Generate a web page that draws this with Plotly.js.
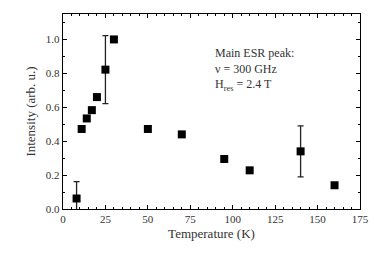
<!DOCTYPE html>
<html><head><meta charset="utf-8">
<script src="https://cdn.plot.ly/plotly-3.0.1.min.js"></script>
<style>html,body{margin:0;padding:0;background:#fff;}#chart{width:374px;height:274px;}</style>
</head><body><div id="chart"></div>
<script>
const temperature = [8, 11, 14, 17, 20, 25, 30, 50, 70, 95, 110, 140, 160];
const intensity = [0.062, 0.472, 0.534, 0.583, 0.66, 0.822, 1.0, 0.472, 0.44, 0.295, 0.228, 0.34, 0.14];
const errorValues = [0.1, 0, 0, 0, 0, 0.2, 0, 0, 0, 0, 0, 0.15, 0];
const xTicks = [0, 25, 50, 75, 100, 125, 150, 175];
const yTicks = [0.0, 0.2, 0.4, 0.6, 0.8, 1.0];
const yTickLabels = ["0.0", "0.2", "0.4", "0.6", "0.8", "1.0"];

const serif = "'Liberation Serif', 'Times New Roman', serif";
const fnt = {family: serif, size: 11, color: "#333"};
const trace = {
  x: temperature, y: intensity, type: "scatter", mode: "markers",
  marker: {symbol: "square", size: 8, color: "#000"},
  error_y: {type: "data", array: errorValues, visible: true, color: "#222", thickness: 1.3, width: 3},
  cliponaxis: true
};
const layout = {
  width: 374, height: 274,
  margin: {l: 63, r: 14, t: 14, b: 65},
  paper_bgcolor: "#fff", plot_bgcolor: "#fff",
  showlegend: false,
  font: fnt,
  xaxis: {
    range: [0, 175], tickvals: xTicks, ticks: "inside", ticklen: 4, tickwidth: 1, tickcolor: "#000",
    showline: true, linecolor: "#000", linewidth: 1.2, mirror: "allticks", showgrid: false, zeroline: false,
    minor: {dtick: 5, ticks: "inside", ticklen: 2, tickcolor: "#000", showgrid: false},
    tickfont: fnt,
    title: {text: "Temperature (K)", font: {family: serif, size: 13, color: "#333"}, standoff: 4}
  },
  yaxis: {
    range: [0, 1.15], tickvals: yTicks, ticktext: yTickLabels, ticks: "inside", ticklen: 4, tickwidth: 1, tickcolor: "#000",
    showline: true, linecolor: "#000", linewidth: 1.2, mirror: "allticks", showgrid: false, zeroline: false,
    minor: {dtick: 0.1, ticks: "inside", ticklen: 2, tickcolor: "#000", showgrid: false},
    tickfont: fnt,
    title: {text: "Intensity (arb. u.)", font: {family: serif, size: 13, color: "#333"}, standoff: 7}
  },
  annotations: [{
    xref: "paper", yref: "paper", x: 0.505, y: 0.845, xanchor: "left", yanchor: "top", align: "left",
    showarrow: false,
    text: "Main ESR peak:<br>ν = 300 GHz<br>H<sub>res</sub> = 2.4 T",
    font: {family: serif, size: 12, color: "#333"}
  }]
};
Plotly.newPlot("chart", [trace], layout, {displayModeBar: false, staticPlot: true});
</script></body></html>
